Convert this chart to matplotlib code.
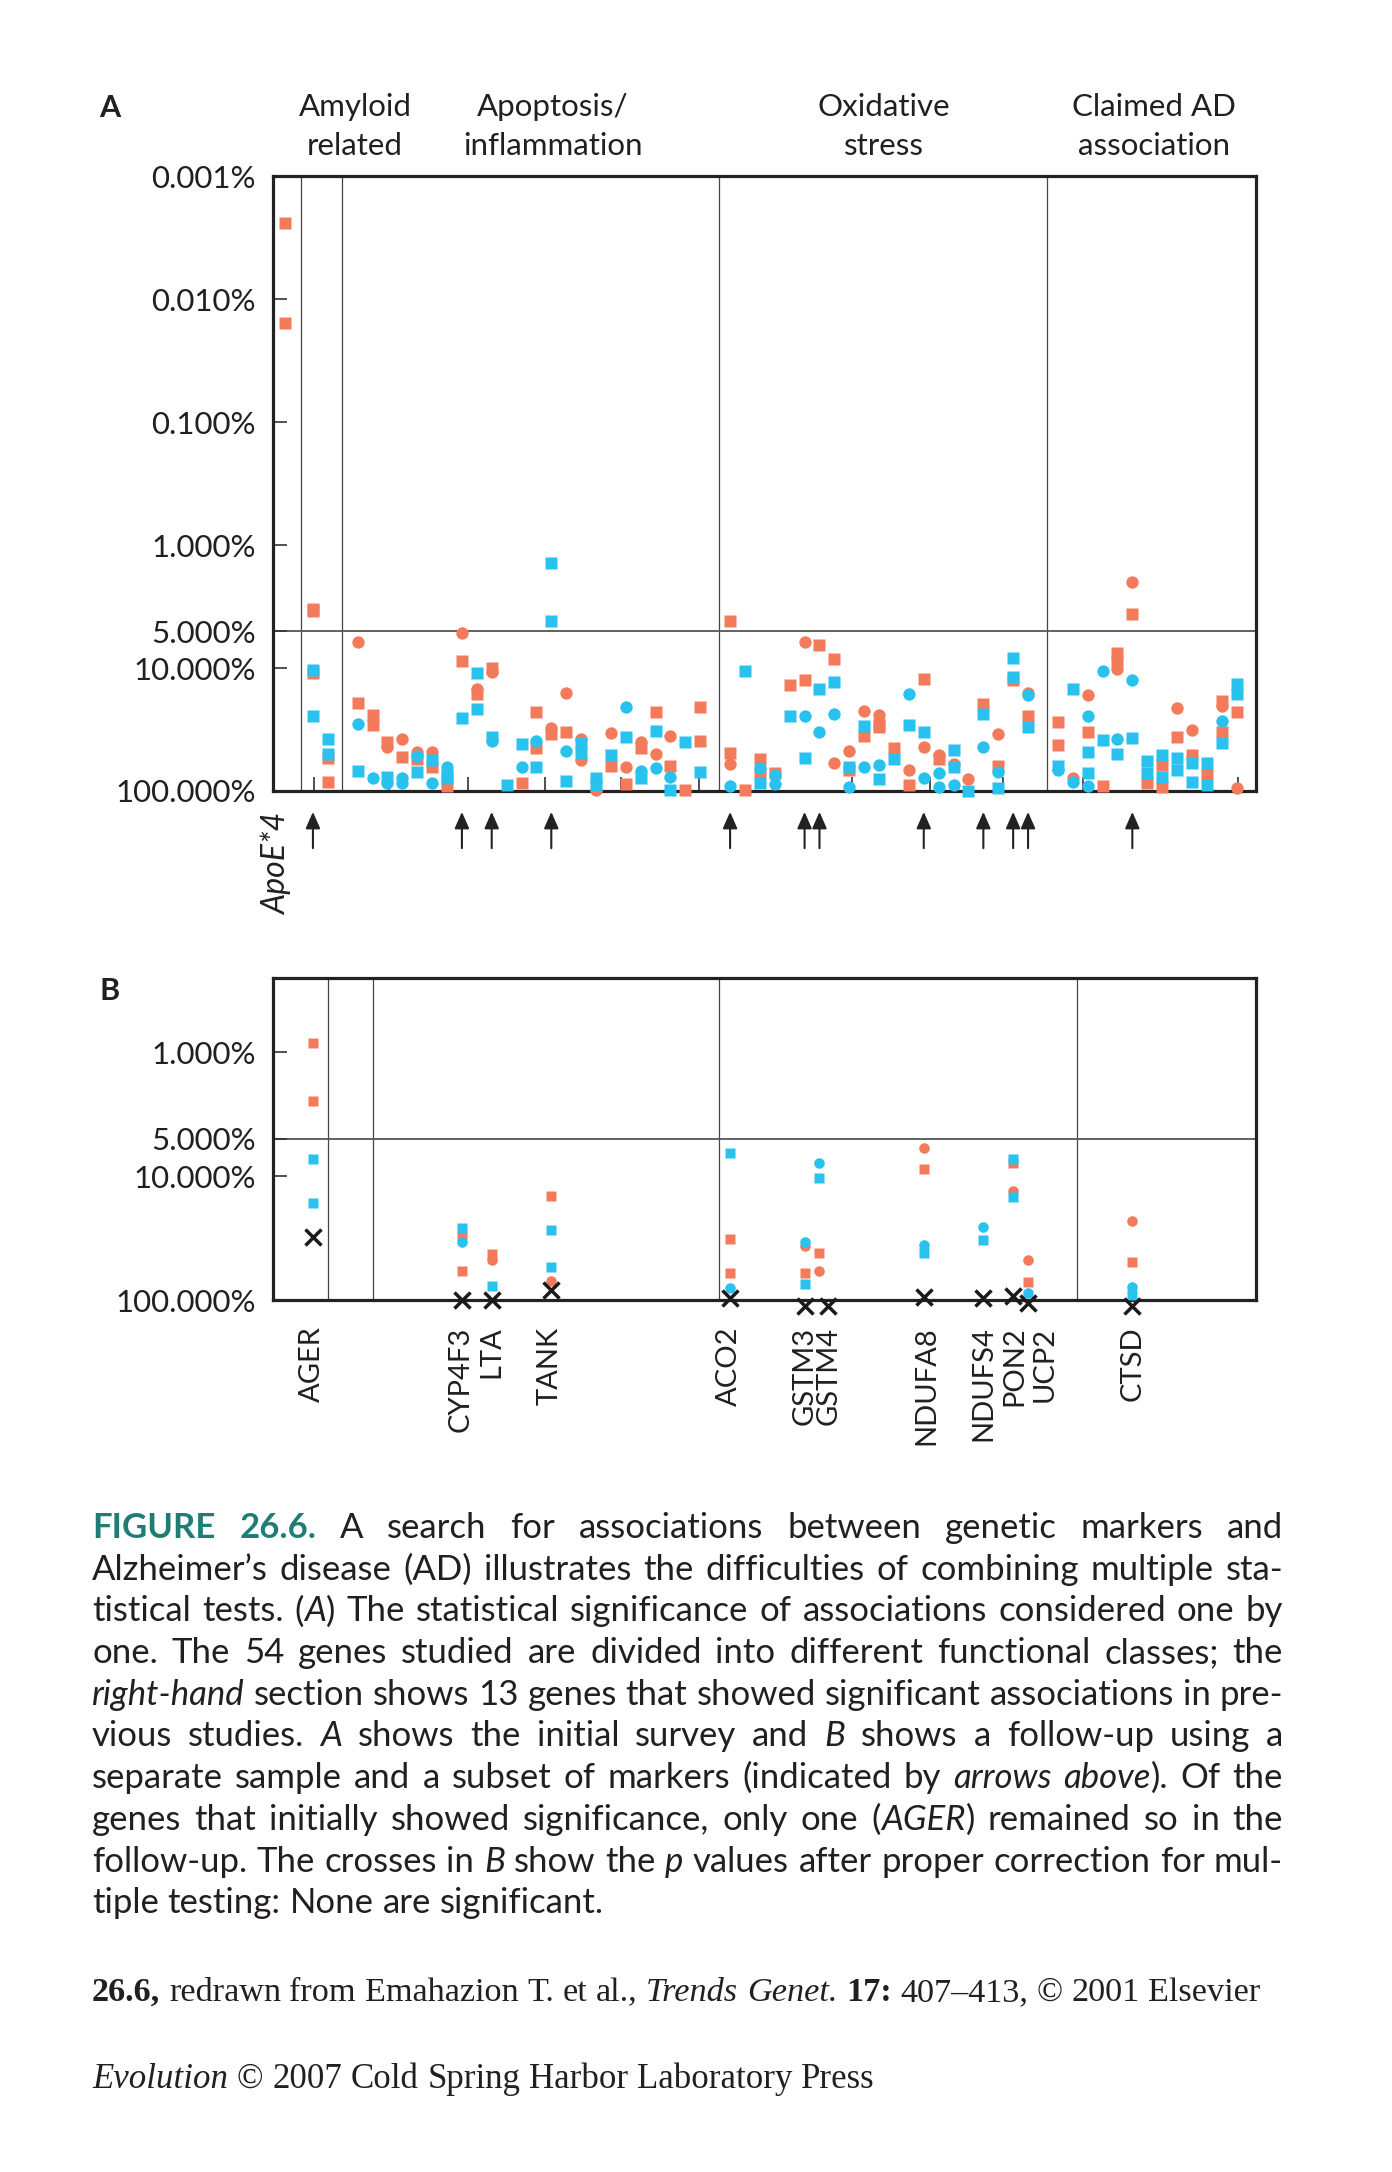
import matplotlib
matplotlib.use('Agg')
import matplotlib.pyplot as plt
from matplotlib.ticker import NullLocator
import matplotlib.transforms as mtrans

W, H, DPI = 1392, 2172, 100
ORANGE = '#F47A5C'
BLUE = '#29C2EE'
TEAL = '#1E7E76'
INK = '#231f20'
SANS = ['Lato', 'DejaVu Sans']
SERIF = ['Liberation Serif', 'DejaVu Serif']

# --- panel A: initial survey (p values in %) ---------------------------
# column positions (ApoE, amyloid, apoptosis, oxidative stress, claimed AD)
a_x = [0.1, 2, 3, 5, 6, 7, 8, 9, 10, 11, 12, 13, 14, 15, 16, 17, 18, 19, 20,
       21, 22, 23, 24, 25, 26, 27, 28, 30, 31, 32, 33, 34, 35, 36, 37, 38, 39,
       40, 41, 42, 43, 44, 45, 46, 47, 48, 49, 50, 52, 53, 54, 55, 56, 57, 58,
       59, 60, 61, 62, 63, 64]
# orange squares
a_os = [[0.0024, 0.0156], [3.3, 3.4, 11.0], [53.4, 84], [19.2], [24.2, 29.2],
        [39.8], [53.3], [55], [63.5], [90.5], [8.7], [16.1], [9.9], [], [85.6],
        [22.7, 45.1], [34.5], [33], [], [], [62.3], [88], [45.1], [22.7], [62.7],
        [98], [20.7, 39.3], [4.1, 49.5], [99], [54.4, 71.9], [71.9], [13.8],
        [12.4], [6.5], [8.4], [67.5], [35.6], [28.3, 29.9], [44.5], [89.4],
        [12.3], [55], [], [], [19.5], [62.3], [12.6], [24.5], [27.4, 42.4], [],
        [33], [90.5], [7.6, 8.7], [3.6], [86.7], [61.6, 92], [36.7], [51],
        [72.8], [18.6, 33], [22.7]]
# orange circles
a_oc = [[], [], [], [6.1], [], [43.7], [37.8], [48], [48.6], [], [5.2], [14.7],
        [10.8], [], [], [], [31], [15.8], [37.4, 56], [98], [34], [64.3], [39.8],
        [50.4], [35.6], [], [], [60.4], [], [], [], [], [6.1], [], [59.7], [47.5],
        [22.3], [24.2], [], [67.5], [43.7], [51], [60.4], [80], [], [34.5], [],
        [15.9], [], [79], [16.6], [], [10.1], [2.0], [], [], [21.3], [31.6], [],
        [20.4], [95]]
# blue squares
a_bs = [[], [10.4, 24.5], [37.4, 50], [68.4], [], [77.5], [], [70.6], [56],
        [74, 79], [25.7], [10.9, 21.4], [36.2], [89.4], [41.6], [64.3], [1.4, 4.1],
        [83], [41, 49.5], [79, 89.4], [51], [36.7], [79], [32.4], [98], [39.8],
        [69.7], [], [10.6], [85.6], [], [24.6], [53.7], [14.9], [13], [63.5],
        [29.6], [80], [55], [29.2], [33.4], [], [46.5, 64.3], [100], [23.7], [95],
        [8.3, 11.8], [30], [62.3], [14.9], [48.6, 71.9], [38.6], [50.4], [36.9],
        [56.8, 71.9], [51, 76.5], [54, 67.5], [58.9, 84], [59.7, 89.4], [40.5],
        [13.4, 16.1]]
# blue circles
a_bc = [[], [], [], [28.3], [79], [85.6], [79, 86.7], [51.7], [86.7], [64.3], [],
        [], [39], [], [63.5], [39.3], [], [47.5], [], [], [], [20.7], [68.4],
        [65.5], [77.5], [], [], [90.5], [], [65.5], [74, 87.7], [], [24.6], [33],
        [23.7], [92], [63.5], [61], [], [16.2], [79], [71.9, 92], [89.4], [], [43.7],
        [70.6], [], [16.6], [67.5], [85], [24.5, 91], [10.6], [37.4], [12.4], [],
        [], [], [], [], [27], []]

# --- panel B: follow-up of the arrowed genes ---------------------------
b_genes = ['AGER', 'CYP4F3', 'LTA', 'TANK', 'ACO2', 'GSTM3', 'GSTM4',
           'NDUFA8', 'NDUFS4', 'PON2', 'UCP2', 'CTSD']
b_x = [2, 12, 14, 18, 30, 35, 36, 43, 47, 49, 50, 57]
b_label_x = [1.9, 11.9, 14.0, 17.9, 29.9, 35.0, 36.6, 43.2, 47.0, 49.1, 51.1, 57.0]
b_os = [[0.84, 2.5], [29.9, 58.4], [42.8], [14.4], [32.4, 60.2], [60.2], [41.5],
        [8.7], [], [7.9], [71], [49]]
b_oc = [[], [], [47.6], [69.9], [], [36.7], [58.4], [6.0], [], [13.3], [47.6], [23.1]]
b_bs = [[7.3, 16.6], [26.4], [77.1], [27.2, 53.9], [6.5], [74.3], [10.3], [42.1],
        [32.8], [7.3, 14.7], [], [91]]
b_bc = [[], [34.3], [], [], [80.5], [33.8], [7.9], [36], [25.6], [], [88], [79]]
b_corrected = [31.2, 100, 100, 83, 97, 112, 112, 94, 97, 92, 106, 112]
b_corrected_x = [2, 12, 14, 18, 30, 35, 36.6, 43, 47, 49, 50, 57]

a_yticks = [0.001, 0.01, 0.1, 1, 5, 10, 100]
b_yticks = [1, 5, 10, 100]
a_xticks = [2.1, 7.1, 12.4, 17.6, 22.7, 27.9, 33.1, 38.2, 43.4, 48.3, 53.7, 58.9, 64.1]
a_sections = [1.2, 3.93, 29.23, 51.3]
b_sections = [3.01, 6.03, 29.25, 53.28]
headers = [('Amyloid', 'related'), ('Apoptosis/', 'inflammation'),
           ('Oxidative', 'stress'), ('Claimed AD', 'association')]
header_cx = [355, 553, 884, 1154]

caption = [
    "^FIGURE 26.6.^ A search for associations between genetic markers and",
    "Alzheimer\u2019s disease (AD) illustrates the difficulties of combining multiple sta-",
    "tistical tests. (*A*) The statistical significance of associations considered one by",
    "one. The 54 genes studied are divided into different functional classes; the",
    "*right-hand* section shows 13 genes that showed significant associations in pre-",
    "vious studies. *A* shows the initial survey and *B* shows a follow-up using a",
    "separate sample and a subset of markers (indicated by *arrows above*). Of the",
    "genes that initially showed significance, only one (*AGER*) remained so in the",
    "follow-up. The crosses in *B* show the *p* values after proper correction for mul-",
    "tiple testing: None are significant.",
]
source = "^26.6,^ redrawn from Emahazion T. et al., *Trends Genet.* ^17:^ 407\u2013413, \u00a9 2001 Elsevier"
press = "*Evolution* \u00a9 2007 Cold Spring Harbor Laboratory Press"


def flat(xs, groups):
    px_, py_ = [], []
    for x, g in zip(xs, groups):
        for v in g:
            px_.append(x)
            py_.append(v)
    return px_, py_


def draw_marks(ax, xs, os_, oc_, bs_, bc_, ms):
    for groups, col, mk in [(os_, ORANGE, 's'), (oc_, ORANGE, 'o'),
                            (bs_, BLUE, 's'), (bc_, BLUE, 'o')]:
        x, y = flat(xs, groups)
        ax.plot(x, y, ls='none', marker=mk, ms=ms, mfc=col, mec='none',
                clip_on=False, zorder=3)


def style_axes(ax, yticks, sections):
    ax.set_yscale('log')
    ax.set_xlim(-0.7, 65.3)
    ax.yaxis.set_minor_locator(NullLocator())
    ax.set_yticks(yticks)
    ax.set_yticklabels(['%.3f%%' % t for t in yticks], family=SANS, size=22.5, color=INK)
    ax.tick_params(axis='y', direction='in', length=10, width=1.2, pad=12, color='#333')
    for s in ax.spines.values():
        s.set_linewidth(2.3)
        s.set_color('#222')
    for sx in sections:
        ax.axvline(sx, color='#444', lw=0.9, zorder=1)
    ax.axhline(5, color='#555', lw=1.3, zorder=1)


fig = plt.figure(figsize=(W / DPI, H / DPI), dpi=DPI)

# panel A
axa = fig.add_axes([272.7 / W, 1 - 791 / H, (1256 - 272.7) / W, (791 - 176.5) / H])
style_axes(axa, a_yticks, a_sections)
axa.set_ylim(100, 0.001)
axa.set_xticks(a_xticks)
axa.set_xticklabels([])
axa.tick_params(axis='x', direction='in', length=10, width=1.2, color='#333')
draw_marks(axa, a_x, a_os, a_oc, a_bs, a_bc, 8.9)

ta = mtrans.blended_transform_factory(axa.transData, axa.transAxes)
for x in b_x:
    axa.annotate('', xy=(x, -0.034), xytext=(x, -0.093), xycoords=ta, textcoords=ta,
                 annotation_clip=False,
                 arrowprops=dict(arrowstyle='-|>,head_length=0.5,head_width=0.22',
                                 mutation_scale=20, color='#222', lw=1.5,
                                 shrinkA=0, shrinkB=0))
axa.text(-0.4, -0.035, 'ApoE*4', transform=ta, rotation=90, va='top', ha='center',
         style='italic', family=SANS, size=23, color=INK)

# panel B
axb = fig.add_axes([272.7 / W, 1 - 1300 / H, (1256 - 272.7) / W, (1300 - 978) / H])
style_axes(axb, b_yticks, b_sections)
axb.set_ylim(100, 0.253)
axb.set_xticks([])
draw_marks(axb, b_x, b_os, b_oc, b_bs, b_bc, 7.6)
axb.plot(b_corrected_x, b_corrected, ls='none', marker='x', ms=11.5, mew=2.5,
         color='#1a1a1a', clip_on=False, zorder=4)
tb = mtrans.blended_transform_factory(axb.transData, axb.transAxes)
for x, g in zip(b_label_x, b_genes):
    axb.text(x, -0.082, g, transform=tb, rotation=90, va='top', ha='center',
             family=SANS, size=21, color=INK)

# headers and panel letters
for (l1, l2), cx in zip(headers, header_cx):
    fig.text(cx / W, 1 - 116 / H, l1, ha='center', va='baseline', family=SANS, size=22.5, color=INK)
    fig.text(cx / W, 1 - 155 / H, l2, ha='center', va='baseline', family=SANS, size=22.5, color=INK)
fig.text(99 / W, 1 - 117 / H, 'A', weight='bold', family=SANS, size=22, color=INK, va='baseline')
fig.text(100 / W, 1 - 1000 / H, 'B', weight='bold', family=SANS, size=22, color=INK, va='baseline')

# caption text, set word by word
renderer = fig.canvas.get_renderer()


def parse_words(line, state):
    words = []
    for raw in line.split(' '):
        pieces, buf = [], ''
        for ch in raw:
            if ch in '*^':
                if buf:
                    pieces.append((buf, state['i'], state['b']))
                    buf = ''
                state['i' if ch == '*' else 'b'] ^= True
            else:
                buf += ch
        if buf:
            pieces.append((buf, state['i'], state['b']))
        words.append(pieces)
    return words


def set_line(line, y, x0, x1, family, size, bold_color, justify):
    words = parse_words(line, {'i': False, 'b': False})
    placed, widths = [], []
    for w in words:
        row, tot = [], 0
        for txt, it, bd in w:
            t = fig.text(0, 1 - y / H, txt, family=family, size=size, va='baseline',
                         style='italic' if it else 'normal',
                         weight='bold' if bd else 'normal',
                         color=bold_color if bd else INK)
            wd = t.get_window_extent(renderer=renderer).width
            row.append((t, wd))
            tot += wd
        placed.append(row)
        widths.append(tot)
    probe = fig.text(0, 0, 'n n', family=family, size=size)
    probe2 = fig.text(0, 0, 'nn', family=family, size=size)
    space = probe.get_window_extent(renderer=renderer).width - probe2.get_window_extent(renderer=renderer).width
    probe.remove()
    probe2.remove()
    if justify and len(words) > 1:
        space = max((x1 - x0 - sum(widths)) / (len(words) - 1), 0.5 * space)
    x = x0
    for row in placed:
        for t, wd in row:
            t.set_x(x / W)
            x += wd
        x += space


for i, line in enumerate(caption):
    set_line(line, 1538 + 41.7 * i, 92, 1283, SANS, 25, TEAL, i < len(caption) - 1)
set_line(source, 2001, 92, 1262, SERIF, 24.7, INK, False)
set_line(press, 2088, 92, 870, SERIF, 25.1, INK, False)

fig.savefig('out.png', dpi=DPI)
